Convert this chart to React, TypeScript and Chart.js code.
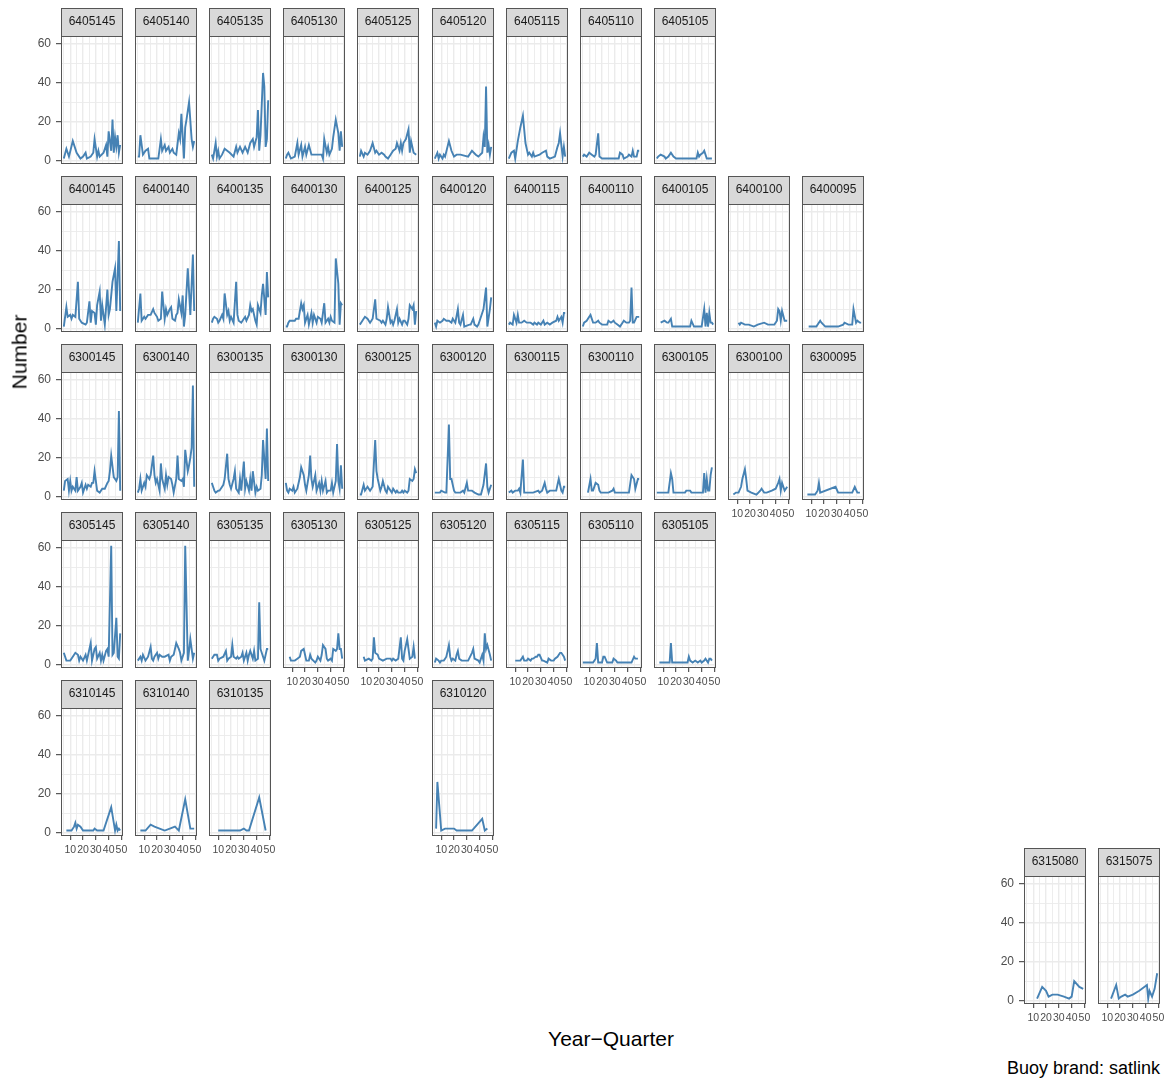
import React, { useEffect, useRef } from "react";
import { Chart, registerables } from "chart.js";

Chart.register(...registerables);

const FONT = "'Liberation Sans', Arial, Helvetica, sans-serif";
Chart.defaults.font.family = FONT;

// ---- counts per year-quarter index, one series per 5x5 square ----
const s6405145: [number, number][] = [[5,1],[7,6],[9,2],[12,10],[15,4],[18,1],[20,2],[22,4],[23,1],[26,2],[28,4],[29,11],[31,2],[32,5],[33,2],[36,4],[38,8],[39,2],[40,15],[42,5],[43,21],[44,4],[45,12],[46,7],[47,13],[48,4],[49,8]];
const s6405140: [number, number][] = [[5,2],[6,2],[7,13],[9,3],[11,5],[13,6],[14,1],[21,1],[23,11],[24,5],[26,8],[27,5],[29,7],[30,4],[32,6],[33,4],[35,3],[37,14],[38,11],[39,24],[41,1],[42,17],[43,21],[45,30],[47,11],[48,7],[49,10]];
const s6405135: [number, number][] = [[5,3],[6,1],[8,9],[9,2],[10,5],[11,1],[13,3],[15,6],[19,4],[22,2],[24,7],[25,4],[27,7],[29,4],[31,7],[33,4],[35,9],[37,11],[38,7],[40,12],[41,26],[42,5],[43,13],[45,45],[46,38],[47,7],[48,11],[49,31]];
const s6405130: [number, number][] = [[5,1],[6,3],[7,4],[9,1],[12,2],[14,9],[15,3],[17,8],[18,2],[20,7],[21,3],[23,8],[25,3],[33,3],[34,1],[35,11],[37,4],[38,7],[39,3],[41,6],[42,12],[44,21],[46,14],[47,5],[48,15],[49,7]];
const s6405125: [number, number][] = [[5,2],[6,5],[8,2],[9,4],[11,3],[13,5],[15,9],[17,4],[18,5],[20,3],[22,4],[24,3],[25,2],[27,1],[29,3],[31,5],[33,6],[34,9],[36,5],[37,9],[38,5],[39,9],[41,11],[43,16],[44,4],[45,10],[47,4],[49,3]];
const s6405120: [number, number][] = [[5,1],[7,4],[8,1],[9,3],[11,1],[12,3],[13,2],[16,10],[18,5],[20,2],[22,3],[25,3],[31,2],[34,5],[37,3],[39,2],[42,4],[43,12],[44,7],[45,38],[46,4],[47,8],[48,3],[49,7]];
const s6405115: [number, number][] = [[5,1],[7,4],[9,5],[10,1],[12,10],[14,17],[16,23],[18,9],[20,3],[21,4],[23,2],[24,4],[25,2],[29,3],[31,4],[34,5],[35,2],[37,1],[41,2],[43,7],[44,9],[45,14],[47,2],[48,7],[49,2]];
const s6405110: [number, number][] = [[5,2],[6,3],[8,2],[10,4],[12,3],[14,2],[15,3],[17,14],[18,2],[20,1],[33,1],[34,4],[36,3],[37,1],[40,2],[41,3],[43,2],[44,5],[45,2],[47,2],[48,5],[49,5]];
const s6405105: [number, number][] = [[5,1],[6,2],[8,3],[11,2],[12,1],[14,2],[16,4],[18,2],[20,1],[36,1],[37,4],[38,2],[39,3],[41,4],[42,5],[44,1],[48,1]];

const s6400145: [number, number][] = [[5,1],[7,11],[8,6],[10,7],[11,5],[12,7],[14,6],[16,24],[17,5],[19,3],[22,2],[23,3],[25,14],[26,3],[27,9],[29,8],[30,2],[31,12],[33,19],[34,4],[35,12],[37,2],[39,20],[40,7],[41,10],[43,24],[45,31],[46,9],[48,45],[49,9]];
const s6400140: [number, number][] = [[5,3],[7,18],[8,4],[10,6],[11,5],[13,7],[15,7],[17,10],[18,8],[20,6],[21,4],[23,5],[24,19],[26,5],[27,10],[28,7],[30,10],[31,11],[32,5],[34,4],[35,7],[36,8],[37,15],[39,8],[40,17],[41,1],[42,7],[44,31],[45,19],[46,7],[48,38],[49,9]];
const s6400135: [number, number][] = [[5,3],[6,5],[7,6],[9,5],[10,3],[11,4],[13,7],[14,5],[15,18],[17,7],[18,9],[19,4],[20,6],[22,3],[24,24],[25,7],[26,4],[28,3],[30,5],[31,6],[32,4],[34,7],[35,12],[36,9],[37,10],[39,4],[40,2],[41,12],[43,8],[44,17],[45,23],[47,7],[48,29],[49,16]];
const s6400130: [number, number][] = [[5,1],[6,1],[7,3],[8,4],[12,4],[13,5],[15,5],[17,13],[18,10],[19,12],[20,3],[22,7],[23,2],[25,8],[26,3],[27,7],[29,3],[30,6],[32,5],[33,3],[35,13],[36,3],[38,5],[39,3],[40,6],[41,4],[43,3],[44,36],[46,23],[47,2],[48,13],[49,12]];
const s6400125: [number, number][] = [[5,2],[6,3],[8,5],[9,6],[11,5],[12,4],[13,3],[15,5],[17,15],[18,5],[21,4],[22,3],[23,4],[25,2],[26,5],[27,11],[29,3],[30,4],[31,2],[32,4],[34,10],[35,3],[36,5],[38,2],[39,4],[40,4],[42,2],[43,5],[44,12],[46,10],[47,12],[48,2],[49,9]];
const s6400120: [number, number][] = [[5,3],[6,1],[7,4],[9,3],[11,4],[12,5],[14,4],[16,4],[18,3],[19,5],[21,3],[23,10],[24,3],[25,2],[27,7],[28,1],[32,2],[33,2],[35,5],[36,2],[38,1],[39,2],[40,4],[42,8],[43,10],[45,21],[46,1],[48,10],[49,16]];
const s6400115: [number, number][] = [[5,2],[6,3],[8,2],[9,7],[11,3],[12,7],[13,3],[15,3],[17,4],[19,3],[22,3],[24,2],[25,3],[27,2],[28,3],[30,2],[32,4],[33,2],[35,3],[37,2],[39,3],[42,4],[43,6],[44,4],[46,6],[47,3],[48,8],[49,8]];
const s6400110: [number, number][] = [[5,1],[6,3],[8,4],[10,6],[11,7],[13,3],[15,3],[17,4],[18,3],[20,2],[24,2],[25,4],[27,3],[29,4],[30,3],[32,2],[34,1],[36,3],[37,4],[39,3],[41,3],[42,4],[43,21],[44,3],[45,3],[47,6],[49,6]];
const s6400105: [number, number][] = [[8,3],[11,4],[13,3],[14,3],[16,5],[17,1],[31,1],[32,4],[34,1],[40,1],[42,10],[43,1],[44,8],[45,1],[46,8],[47,3],[48,3],[49,2]];
const s6400100: [number, number][] = [[11,3],[12,2],[13,3],[16,2],[19,2],[23,1],[26,2],[31,3],[34,2],[39,2],[41,4],[42,10],[43,9],[44,4],[45,9],[47,4],[49,4]];
const s6400095: [number, number][] = [[8,1],[14,1],[17,4],[18,3],[21,1],[31,1],[35,2],[36,3],[39,2],[42,2],[43,10],[45,3],[46,4],[48,3],[49,3]];

const s6300145: [number, number][] = [[5,3],[6,8],[8,9],[9,3],[10,8],[11,3],[12,5],[14,3],[15,10],[16,3],[18,5],[19,7],[20,2],[22,6],[23,4],[24,6],[26,5],[27,7],[28,7],[29,13],[31,3],[33,2],[35,4],[37,4],[39,7],[40,8],[41,13],[42,21],[44,10],[45,9],[46,8],[47,10],[48,44],[49,3]];
const s6300140: [number, number][] = [[5,2],[6,4],[7,9],[8,3],[10,7],[11,5],[12,11],[14,9],[15,11],[17,21],[18,11],[19,7],[20,9],[22,3],[23,17],[24,9],[26,4],[27,11],[28,6],[29,10],[31,9],[32,6],[33,2],[35,9],[36,21],[37,9],[39,8],[40,9],[41,5],[42,24],[44,13],[45,16],[46,20],[47,25],[48,57],[49,5]];
const s6300135: [number, number][] = [[5,7],[6,5],[7,3],[8,2],[10,3],[11,3],[14,6],[15,9],[17,22],[18,9],[19,6],[20,4],[22,9],[23,13],[24,4],[26,2],[27,9],[28,3],[30,18],[31,4],[32,8],[34,3],[35,9],[36,3],[37,13],[39,2],[40,5],[41,3],[43,4],[44,11],[45,29],[47,9],[48,35],[49,8]];
const s6300130: [number, number][] = [[5,7],[6,3],[7,2],[8,4],[10,3],[11,5],[12,2],[14,4],[16,10],[17,15],[19,11],[20,6],[21,3],[23,11],[24,21],[25,9],[26,5],[28,11],[29,3],[31,7],[32,3],[33,8],[34,3],[36,8],[37,2],[38,3],[40,3],[41,7],[42,2],[44,8],[45,27],[46,8],[47,4],[48,16],[49,4]];
const s6300125: [number, number][] = [[5,1],[6,1],[8,6],[9,3],[11,5],[12,4],[13,3],[15,5],[17,29],[18,13],[19,9],[21,3],[22,5],[23,8],[25,3],[26,2],[27,5],[29,3],[30,2],[31,4],[33,2],[34,3],[35,2],[37,2],[38,3],[39,2],[40,3],[42,2],[43,3],[44,9],[46,8],[47,9],[48,14],[49,12]];
const s6300120: [number, number][] = [[5,2],[9,2],[10,3],[13,2],[14,2],[16,37],[17,9],[18,9],[20,3],[21,2],[25,2],[27,3],[28,2],[30,7],[31,3],[34,3],[36,2],[39,1],[41,1],[43,6],[45,17],[46,5],[47,2],[49,6]];
const s6300115: [number, number][] = [[5,2],[7,3],[8,2],[10,3],[12,3],[13,4],[14,2],[16,19],[17,2],[24,2],[28,3],[29,2],[31,3],[33,7],[34,4],[35,2],[37,3],[40,3],[42,3],[43,6],[44,9],[46,3],[47,2],[48,5],[49,5]];
const s6300110: [number, number][] = [[9,2],[11,9],[12,3],[13,3],[15,7],[17,6],[18,3],[19,2],[25,2],[28,3],[29,4],[30,2],[41,2],[43,11],[45,9],[46,4],[48,9],[49,9]];
const s6300105: [number, number][] = [[5,2],[14,2],[16,12],[17,9],[18,2],[27,2],[28,3],[31,3],[32,2],[41,2],[42,12],[43,2],[44,9],[45,3],[46,3],[47,11],[48,15]];
const s6300100: [number, number][] = [[7,1],[9,2],[11,2],[13,5],[14,9],[16,14],[17,9],[18,3],[21,2],[25,1],[28,3],[29,4],[31,2],[33,2],[37,3],[40,4],[42,7],[43,9],[44,3],[45,7],[47,3],[49,5]];
const s6300095: [number, number][] = [[7,1],[13,1],[15,3],[16,7],[17,2],[29,5],[31,2],[42,2],[44,5],[46,2],[48,2]];

const s6305145: [number, number][] = [[5,6],[7,2],[10,2],[12,4],[14,6],[16,5],[17,2],[18,4],[20,2],[22,5],[23,2],[24,5],[25,8],[26,11],[27,2],[29,8],[30,9],[31,3],[33,6],[34,2],[35,5],[36,2],[38,7],[39,8],[40,4],[42,61],[43,5],[44,6],[46,24],[47,4],[48,3],[49,16]];
const s6305140: [number, number][] = [[5,2],[7,4],[8,2],[9,5],[11,2],[13,4],[15,9],[16,3],[17,2],[18,4],[20,6],[21,3],[22,5],[24,4],[26,4],[29,5],[30,2],[31,4],[33,5],[34,8],[35,11],[37,8],[38,6],[39,2],[41,6],[42,61],[44,2],[45,7],[46,13],[48,3],[49,6]];
const s6305135: [number, number][] = [[5,3],[7,5],[9,5],[10,2],[11,3],[14,4],[16,7],[17,2],[18,3],[20,4],[21,10],[22,4],[24,3],[25,4],[26,3],[28,4],[29,6],[30,2],[32,6],[33,2],[34,5],[35,7],[37,3],[38,7],[39,2],[41,3],[42,32],[43,8],[45,4],[46,2],[47,5],[48,8],[49,8]];
const s6305130: [number, number][] = [[8,4],[9,2],[12,2],[14,3],[16,4],[17,7],[19,8],[20,5],[21,2],[23,2],[24,5],[25,3],[28,1],[29,2],[30,4],[32,2],[33,5],[34,10],[36,8],[37,3],[38,2],[40,3],[41,2],[42,8],[44,7],[45,8],[46,16],[47,8],[48,8],[49,3]];
const s6305125: [number, number][] = [[8,4],[9,2],[12,3],[14,2],[15,3],[16,14],[17,6],[19,5],[20,3],[23,2],[26,3],[29,3],[30,2],[31,3],[33,2],[35,3],[37,14],[38,3],[39,2],[40,7],[42,13],[43,8],[44,3],[46,4],[47,9],[48,3]];
const s6305120: [number, number][] = [[5,1],[6,3],[8,2],[9,1],[10,2],[12,2],[13,3],[14,4],[16,10],[17,4],[18,2],[19,3],[21,2],[22,5],[23,7],[24,3],[26,2],[31,2],[34,6],[35,8],[36,3],[39,2],[40,1],[42,5],[43,2],[44,16],[45,8],[46,10],[48,5],[49,2]];
const s6305115: [number, number][] = [[10,2],[12,2],[14,2],[16,4],[17,2],[19,2],[20,3],[22,2],[23,3],[24,3],[26,4],[27,4],[28,5],[29,5],[31,2],[32,2],[35,1],[36,3],[38,2],[40,2],[41,3],[43,4],[45,6],[46,6],[48,4],[49,2]];
const s6305110: [number, number][] = [[5,1],[13,1],[15,3],[16,11],[17,1],[20,1],[21,4],[22,4],[24,1],[28,1],[29,3],[31,2],[32,1],[43,1],[45,4],[46,3],[48,3]];
const s6305105: [number, number][] = [[7,1],[15,1],[16,11],[17,1],[29,1],[30,4],[31,2],[33,1],[35,2],[37,1],[39,2],[40,1],[42,2],[43,3],[45,1],[46,3],[47,3],[48,2]];

const s6310145: [number, number][] = [[7,1],[11,1],[13,3],[14,5],[15,2],[16,4],[18,3],[20,1],[28,1],[29,2],[31,1],[36,1],[42,13],[45,1],[46,4],[47,1],[48,2],[49,1]];
const s6310140: [number, number][] = [[7,1],[11,1],[15,4],[18,3],[22,2],[26,1],[30,2],[34,3],[37,1],[42,17],[46,2],[49,2]];
const s6310135: [number, number][] = [[10,1],[20,1],[27,1],[30,2],[32,1],[34,1],[42,18],[47,1]];
const s6310120: [number, number][] = [[6,2],[7,26],[10,1],[13,2],[17,2],[20,2],[22,1],[34,1],[42,7],[44,1],[46,2]];

const s6315080: [number, number][] = [[13,1],[17,7],[20,5],[22,2],[25,3],[29,3],[34,2],[38,1],[40,2],[42,10],[46,7],[49,6]];
const s6315075: [number, number][] = [[13,1],[17,8],[19,1],[21,2],[24,3],[26,2],[30,3],[35,5],[41,8],[42,1],[43,5],[45,2],[47,6],[49,14]];

// ---- facet labels and their place in the geographic grid ----
const panelIds = [
  "6405145", "6405140", "6405135", "6405130", "6405125", "6405120", "6405115", "6405110", "6405105",
  "6400145", "6400140", "6400135", "6400130", "6400125", "6400120", "6400115", "6400110", "6400105", "6400100", "6400095",
  "6300145", "6300140", "6300135", "6300130", "6300125", "6300120", "6300115", "6300110", "6300105", "6300100", "6300095",
  "6305145", "6305140", "6305135", "6305130", "6305125", "6305120", "6305115", "6305110", "6305105",
  "6310145", "6310140", "6310135", "6310120",
  "6315080", "6315075",
];
const panelRows = [
  0, 0, 0, 0, 0, 0, 0, 0, 0,
  1, 1, 1, 1, 1, 1, 1, 1, 1, 1, 1,
  2, 2, 2, 2, 2, 2, 2, 2, 2, 2, 2,
  3, 3, 3, 3, 3, 3, 3, 3, 3,
  4, 4, 4, 4,
  5, 5,
];
const panelCols = [
  0, 1, 2, 3, 4, 5, 6, 7, 8,
  0, 1, 2, 3, 4, 5, 6, 7, 8, 9, 10,
  0, 1, 2, 3, 4, 5, 6, 7, 8, 9, 10,
  0, 1, 2, 3, 4, 5, 6, 7, 8,
  0, 1, 2, 5,
  13, 14,
];
const panelSeries = [
  s6405145, s6405140, s6405135, s6405130, s6405125, s6405120, s6405115, s6405110, s6405105,
  s6400145, s6400140, s6400135, s6400130, s6400125, s6400120, s6400115, s6400110, s6400105, s6400100, s6400095,
  s6300145, s6300140, s6300135, s6300130, s6300125, s6300120, s6300115, s6300110, s6300105, s6300100, s6300095,
  s6305145, s6305140, s6305135, s6305130, s6305125, s6305120, s6305115, s6305110, s6305105,
  s6310145, s6310140, s6310135, s6310120,
  s6315080, s6315075,
];

// ---- shared axes ----
const xGridValues = [5, 10, 15, 20, 25, 30, 35, 40, 45, 50];
const xLabelValues = [10, 20, 30, 40, 50];
const yGridValues = [0, 10, 20, 30, 40, 50, 60];
const yLabelValues = [0, 20, 40, 60];
const X_MIN = 2.8;
const X_MAX = 51.2;
const Y_MIN = -1.8;
const Y_MAX = 64;

// ---- geometry ----
const ORIGIN_X = 61;
const ORIGIN_Y = 8;
const COL_STEP = 74.1;
const ROW_STEP = 168;
const PANEL_W = 62;
const PLOT_H = 128;
const STRIP_H = 28;
const Y_AXIS_W = 40;
const X_AXIS_H = 20;
const X_OVERFLOW = 7;
const Y_LABEL_ROOM = 8;

const LINE_COLOR = "#4682B4";
const GRID_COLOR = "#EBEBEB";
const FRAME_COLOR = "#555555";
const TICK_COLOR = "#333333";
const STRIP_FILL = "#D9D9D9";
const AXIS_TEXT = "#4D4D4D";

// Grey facet strip above the panel and a dark frame round the plotting area.
const stripAndFrame = {
  id: "stripAndFrame",
  beforeDraw(chart: any) {
    const { ctx, chartArea: a } = chart;
    ctx.save();
    ctx.fillStyle = STRIP_FILL;
    ctx.fillRect(a.left, 0, a.right - a.left, a.top);
    ctx.strokeStyle = FRAME_COLOR;
    ctx.lineWidth = 1;
    ctx.strokeRect(a.left + 0.5, 0.5, a.right - a.left - 1, a.top);
    ctx.restore();
  },
  afterDraw(chart: any) {
    const { ctx, chartArea: a } = chart;
    ctx.save();
    ctx.strokeStyle = FRAME_COLOR;
    ctx.lineWidth = 1;
    ctx.strokeRect(a.left + 0.5, a.top + 0.5, a.right - a.left - 1, a.bottom - a.top - 1);
    ctx.restore();
  },
};

// Scale labels may overhang the plotting area; keep the area itself fixed.
const noScalePadding = (s: any) => {
  s.paddingLeft = 0;
  s.paddingRight = 0;
  s.paddingTop = 0;
  s.paddingBottom = 0;
};

function Panel({ idx }: { idx: number }) {
  const ref = useRef<HTMLCanvasElement | null>(null);
  const row = panelRows[idx];
  const col = panelCols[idx];
  const hasY = !panelRows.some((r, i) => r === row && panelCols[i] < col);
  const hasX = !panelRows.some((r, i) => r === row + 1 && panelCols[i] === col);
  const padL = hasY ? Y_AXIS_W : 0;
  const padR = hasX ? X_OVERFLOW : 0;
  const bottomRoom = hasX ? X_AXIS_H : hasY ? Y_LABEL_ROOM : 0;
  const width = padL + PANEL_W + padR;
  const height = STRIP_H + PLOT_H + bottomRoom;
  const left = Math.round(ORIGIN_X + col * COL_STEP) - padL;
  const top = ORIGIN_Y + row * ROW_STEP;

  useEffect(() => {
    const canvas = ref.current;
    if (!canvas) return;
    const isMajorX = (v: number) => xLabelValues.includes(v);
    const isMajorY = (v: number) => yLabelValues.includes(v);
    const chart = new Chart(canvas, {
      type: "line",
      data: {
        datasets: [
          {
            data: panelSeries[idx].map(([x, y]) => ({ x, y })),
            borderColor: LINE_COLOR,
            borderWidth: 1.9,
            pointRadius: 0,
            pointHoverRadius: 0,
            tension: 0,
            fill: false,
          },
        ],
      },
      options: {
        responsive: false,
        animation: false,
        events: [],
        layout: {
          autoPadding: false,
          padding: { left: 0, right: padR, top: 0, bottom: hasX ? 0 : bottomRoom },
        },
        plugins: {
          legend: { display: false },
          tooltip: { enabled: false },
          title: {
            display: true,
            text: panelIds[idx],
            fullSize: false,
            color: "#1A1A1A",
            font: { family: FONT, size: 12, weight: "normal", lineHeight: "14px" },
            padding: { top: 7, bottom: 7 },
          },
        },
        scales: {
          x: {
            type: "linear",
            min: X_MIN,
            max: X_MAX,
            afterBuildTicks: (s: any) => {
              s.ticks = xGridValues.map((v) => ({ value: v }));
            },
            afterFit: (s: any) => {
              s.height = hasX ? X_AXIS_H : 0;
              noScalePadding(s);
            },
            border: { display: false },
            grid: {
              color: GRID_COLOR,
              lineWidth: (c: any) => (isMajorX(c.tick.value) ? 1.4 : 0.9),
              drawTicks: hasX,
              tickLength: 4,
              tickWidth: 1,
              tickColor: (c: any) => (isMajorX(c.tick.value) ? TICK_COLOR : "rgba(0,0,0,0)"),
            },
            ticks: {
              display: hasX,
              autoSkip: false,
              maxRotation: 0,
              minRotation: 0,
              padding: 4,
              color: AXIS_TEXT,
              font: { family: FONT, size: 10.5 },
              callback: (v: any) => (isMajorX(Number(v)) ? String(v) : ""),
            },
          },
          y: {
            type: "linear",
            position: "left",
            min: Y_MIN,
            max: Y_MAX,
            afterBuildTicks: (s: any) => {
              s.ticks = yGridValues.map((v) => ({ value: v }));
            },
            afterFit: (s: any) => {
              s.width = padL;
              noScalePadding(s);
            },
            border: { display: false },
            grid: {
              color: GRID_COLOR,
              lineWidth: (c: any) => (isMajorY(c.tick.value) ? 1.4 : 0.9),
              drawTicks: hasY,
              tickLength: 5,
              tickWidth: 1,
              tickColor: (c: any) => (isMajorY(c.tick.value) ? TICK_COLOR : "rgba(0,0,0,0)"),
            },
            ticks: {
              display: hasY,
              autoSkip: false,
              padding: 5,
              color: AXIS_TEXT,
              font: { family: FONT, size: 12 },
              callback: (v: any) => (isMajorY(Number(v)) ? String(v) : ""),
            },
          },
        },
      } as any,
      plugins: [stripAndFrame],
    });
    return () => chart.destroy();
  }, [idx]);

  return (
    <canvas
      ref={ref}
      width={width}
      height={height}
      style={{ position: "absolute", left, top, width, height }}
    />
  );
}

export default function App() {
  const textBase: React.CSSProperties = {
    position: "absolute",
    fontFamily: FONT,
    color: "#000000",
    whiteSpace: "nowrap",
    lineHeight: 1,
  };
  return (
    <div
      style={{
        position: "absolute",
        left: 0,
        top: 0,
        width: 1172,
        height: 1081,
        background: "#FFFFFF",
        overflow: "hidden",
      }}
    >
      {panelIds.map((id, i) => (
        <Panel key={id} idx={i} />
      ))}
      <div
        style={{
          ...textBase,
          left: 19,
          top: 352,
          fontSize: 21,
          transform: "translate(-50%, -50%) rotate(-90deg)",
        }}
      >
        Number
      </div>
      <div
        style={{
          ...textBase,
          left: 611,
          top: 1038,
          fontSize: 21,
          transform: "translate(-50%, -50%)",
        }}
      >
        Year−Quarter
      </div>
      <div
        style={{
          ...textBase,
          right: 12,
          top: 1068,
          fontSize: 18,
          transform: "translateY(-50%)",
        }}
      >
        Buoy brand: satlink
      </div>
    </div>
  );
}
